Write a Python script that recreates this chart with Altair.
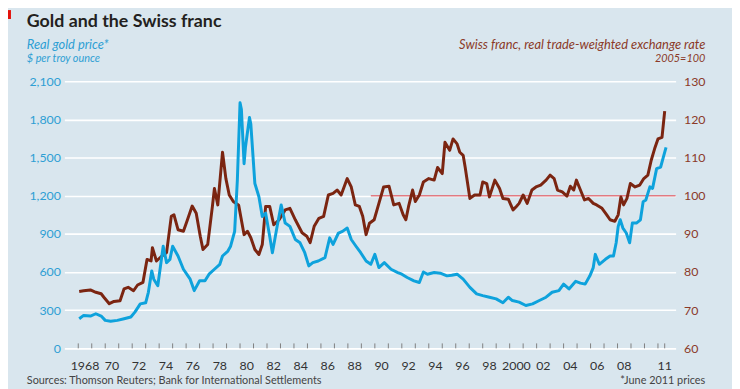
import altair as alt
import pandas as pd

# ---- data ----
gold_year = [1968.07, 1968.4, 1968.9, 1969.3, 1969.7, 1970.0, 1970.4, 1970.9, 1971.4, 1971.9,
             1972.2, 1972.6, 1973.0, 1973.2, 1973.45, 1973.6, 1973.9, 1974.1, 1974.3, 1974.55,
             1974.8, 1975.0, 1975.4, 1975.8, 1976.3, 1976.6, 1977.0, 1977.4, 1977.7, 1978.1,
             1978.5, 1978.7, 1979.1, 1979.3, 1979.6, 1979.8, 1980.0, 1980.1, 1980.3, 1980.4,
             1980.7, 1980.8, 1981.1, 1981.4, 1981.65, 1981.9, 1982.2, 1982.4, 1982.75, 1983.05,
             1983.35, 1983.7, 1984.1, 1984.45, 1984.8, 1985.1, 1985.4, 1985.8, 1986.3, 1986.65,
             1986.9, 1987.3, 1987.6, 1987.95, 1988.25, 1988.6, 1988.95, 1989.35, 1989.7, 1990.0,
             1990.3, 1990.7, 1991.2, 1991.7, 1992.0, 1992.4, 1992.9, 1993.3, 1993.6, 1993.9,
             1994.4, 1994.85, 1995.35, 1995.7, 1996.1, 1996.55, 1997.05, 1997.55, 1998.0, 1998.5,
             1999.0, 1999.5, 1999.9, 2000.2, 2000.7, 2001.2, 2001.7, 2002.2, 2002.7, 2003.15,
             2003.65, 2004.0, 2004.4, 2004.9, 2005.25, 2005.6, 2005.95, 2006.2, 2006.35, 2006.65,
             2007.1, 2007.45, 2007.7, 2007.9, 2008.05, 2008.2, 2008.4, 2008.65, 2008.9, 2009.1,
             2009.4, 2009.7, 2009.9, 2010.1, 2010.4, 2010.6, 2010.9, 2011.2, 2011.4, 2011.6]
gold_price = [233, 259, 254, 272, 254, 220, 213, 220, 233, 246,
              285, 350, 358, 441, 609, 544, 492, 648, 803, 674,
              700, 803, 726, 622, 544, 454, 531, 531, 583, 622,
              661, 726, 765, 803, 920, 1322, 1931, 1880, 1452, 1581,
              1815, 1763, 1296, 1192, 1037, 1063, 881, 752, 959, 1128,
              985, 959, 856, 830, 752, 648, 674, 687, 713, 869,
              817, 907, 920, 946, 856, 803, 752, 687, 661, 739,
              635, 674, 622, 596, 583, 557, 531, 518, 601, 583,
              596, 591, 570, 575, 583, 544, 479, 428, 415, 402,
              389, 358, 402, 376, 363, 337, 350, 376, 402, 441,
              454, 505, 467, 527, 513, 505, 570, 635, 739, 661,
              700, 726, 726, 830, 959, 1011, 946, 907, 830, 985,
              985, 1011, 1153, 1167, 1270, 1258, 1413, 1426, 1504, 1581]

franc_year = [1968.07, 1968.4, 1968.9, 1969.3, 1969.7, 1969.9, 1970.3, 1970.65, 1971.1, 1971.4,
              1971.7, 1972.1, 1972.4, 1972.8, 1973.1, 1973.4, 1973.5, 1973.8, 1974.2, 1974.55,
              1974.9, 1975.1, 1975.4, 1975.8, 1976.1, 1976.45, 1976.75, 1977.05, 1977.25, 1977.6,
              1977.95, 1978.1, 1978.35, 1978.7, 1978.95, 1979.2, 1979.5, 1979.9, 1980.3, 1980.55,
              1980.8, 1981.1, 1981.4, 1981.65, 1981.9, 1982.2, 1982.5, 1982.9, 1983.35, 1983.7,
              1984.1, 1984.6, 1984.95, 1985.2, 1985.5, 1985.85, 1986.2, 1986.55, 1986.9, 1987.2,
              1987.5, 1987.95, 1988.25, 1988.55, 1988.85, 1989.1, 1989.35, 1989.6, 1989.95, 1990.3,
              1990.65, 1991.05, 1991.4, 1991.8, 1992.1, 1992.3, 1992.5, 1992.8, 1993.0, 1993.3,
              1993.6, 1994.0, 1994.4, 1994.65, 1995.0, 1995.2, 1995.55, 1995.8, 1996.1, 1996.3,
              1996.55, 1996.7, 1997.05, 1997.4, 1997.8, 1998.0, 1998.3, 1998.5, 1998.9, 1999.25,
              1999.5, 1999.9, 2000.25, 2000.5, 2000.7, 2001.0, 2001.3, 2001.65, 2001.95, 2002.3,
              2002.7, 2003.0, 2003.3, 2003.55, 2003.9, 2004.25, 2004.5, 2004.75, 2004.95, 2005.25,
              2005.55, 2005.85, 2006.2, 2006.45, 2006.85, 2007.2, 2007.45, 2007.8, 2008.05, 2008.25,
              2008.45, 2008.7, 2008.95, 2009.3, 2009.65, 2009.95, 2010.25, 2010.5, 2010.75, 2011.0,
              2011.3, 2011.5]
franc_index = [74.9, 75.1, 75.3, 74.7, 74.3, 73.4, 71.7, 72.3, 72.5, 75.6,
               76.0, 75.1, 76.6, 77.3, 83.3, 82.9, 86.4, 82.9, 84.2, 85.1,
               94.6, 95.0, 91.1, 90.7, 93.7, 97.3, 95.4, 89.4, 85.9, 87.2,
               97.2, 101.9, 97.6, 111.4, 104.5, 100.2, 98.5, 97.5, 89.8, 90.7,
               89.0, 85.9, 84.6, 87.2, 97.2, 97.2, 92.4, 93.7, 96.3, 96.7,
               93.7, 90.3, 89.4, 87.7, 92.0, 94.1, 94.6, 100.2, 100.6, 101.5,
               100.2, 104.5, 102.3, 97.6, 97.2, 94.6, 89.8, 92.8, 93.7, 98.0,
               102.3, 102.5, 97.6, 98.0, 95.0, 93.7, 97.2, 101.5, 98.5, 100.2,
               103.6, 104.5, 104.1, 107.4, 105.8, 114.0, 111.9, 114.9, 113.6, 111.4,
               110.6, 107.5, 99.3, 100.2, 100.2, 103.6, 103.2, 99.7, 104.1, 101.9,
               99.3, 99.1, 96.3, 97.2, 98.0, 100.2, 98.0, 101.5, 102.3, 102.8,
               104.1, 105.4, 104.5, 101.5, 101.0, 99.9, 102.5, 101.5, 104.1, 101.5,
               98.9, 99.3, 98.0, 97.6, 96.7, 95.0, 93.7, 93.3, 95.0, 99.7,
               97.6, 99.3, 103.2, 102.3, 102.8, 104.5, 105.4, 109.3, 112.3, 114.9,
               115.3, 122.2]

tick_years = list(range(1968, 2012)) + [2011.5]
xlabel_years = [1968.5, 1970.5, 1972.5, 1974.5, 1976.5, 1978.5, 1980.5, 1982.5, 1984.5,
                1986.5, 1988.5, 1990.5, 1992.5, 1994.5, 1996.5, 1998.5, 2000.5, 2002.5,
                2004.5, 2006.5, 2008.5, 2011.5]
xlabel_text = ["1968", "70", "72", "74", "76", "78", "80", "82", "84", "86", "88", "90",
               "92", "94", "96", "98", "2000", "02", "04", "06", "08", "11"]
gold_ticks = [0, 300, 600, 900, 1200, 1500, 1800, 2100]
franc_ticks = [60, 70, 80, 90, 100, 110, 120, 130]
ref_years = [1989.7, 2012.31]
ref_values = [100, 100]

BG = "#d9e6ee"
BLUE = "#0ea2dc"
BROWN = "#7b2511"
PINK = "#e07a82"
LBLUE = "#2e9fd4"
LBROWN = "#8b3a28"
FONT = "Lato"

x_scale = alt.Scale(domain=[1966.97, 2012.31], nice=False, zero=False)
franc_scale = alt.Scale(domain=[60, 130], nice=False, zero=False)
franc_axis = alt.Axis(orient="right", values=franc_ticks, format="d", grid=False,
                      domain=False, ticks=False, labelColor=LBROWN, labelFontSize=12.5,
                      labelPadding=8, labelOverlap=False, tickCount=8, title=None)

gold_df = pd.DataFrame({"year": gold_year, "price": gold_price})
franc_df = pd.DataFrame({"year": franc_year, "index": franc_index})
ref_df = pd.DataFrame({"year": ref_years, "index": ref_values})
tick_df = pd.DataFrame({"year": tick_years})
xlab_df = pd.DataFrame({"year": xlabel_years, "text": xlabel_text})

gold = alt.Chart(gold_df).mark_line(color=BLUE, strokeWidth=3, strokeJoin="round").encode(
    x=alt.X("year:Q", scale=x_scale,
            axis=alt.Axis(labels=False, ticks=False, grid=False, domainColor="#808080",
                          domainWidth=1, title=None, zindex=1, tickCount=5)),
    y=alt.Y("price:Q", scale=alt.Scale(domain=[0, 2100], nice=False, zero=True),
            axis=alt.Axis(orient="left", values=gold_ticks, format=",d", grid=True,
                          gridColor="white", gridWidth=1.6, domain=False, ticks=False,
                          labelColor=LBLUE, labelFontSize=12.5, labelPadding=4,
                          labelOverlap=False, title=None)),
)

ref_line = alt.Chart(ref_df).mark_line(color=PINK, strokeWidth=1.6).encode(
    x=alt.X("year:Q", scale=x_scale, axis=None),
    y=alt.Y("index:Q", scale=franc_scale, axis=franc_axis),
)
franc_line = alt.Chart(franc_df).mark_line(color=BROWN, strokeWidth=3, strokeJoin="round").encode(
    x=alt.X("year:Q", scale=x_scale, axis=None),
    y=alt.Y("index:Q", scale=franc_scale, axis=franc_axis),
)
franc = alt.layer(ref_line, franc_line)

ticks = alt.Chart(tick_df).mark_rule(color="#808080", strokeWidth=1).encode(
    x=alt.X("year:Q", scale=x_scale, axis=None),
    y=alt.value(270), y2=alt.value(265),
)

xlabels = alt.Chart(xlab_df).mark_text(
    align="center", baseline="alphabetic", fontSize=12.5, color="#333333", font=FONT
).encode(
    x=alt.X("year:Q", scale=x_scale, axis=None),
    y=alt.value(292),
    text="text:N",
)

one = pd.DataFrame({"a": [0]})


def label(text, x, y, size, color, align="left", weight="normal", style="normal"):
    return alt.Chart(one).mark_text(
        text=text, align=align, baseline="alphabetic", fontSize=size, color=color,
        fontWeight=weight, fontStyle=style, font=FONT,
    ).encode(x=alt.value(x), y=alt.value(y))


red_box = alt.Chart(one).mark_rect(color="#e3120b").encode(
    x=alt.value(-57), x2=alt.value(-54), y=alt.value(-72), y2=alt.value(-63))

texts = [
    label("Gold and the Swiss franc", -38, -55, 18, "#231f20", weight="bold"),
    label("Real gold price*", -38, -33, 13, LBLUE, style="italic"),
    label("$ per troy ounce", -38, -20, 11, LBLUE, style="italic"),
    label("Swiss franc, real trade-weighted exchange rate", 648, -33, 13, LBROWN,
          align="right", style="italic"),
    label("2005=100", 648, -20, 11, LBROWN, align="right", style="italic"),
    label("Sources: Thomson Reuters; Bank for International Settlements", -38, 306, 11,
          "#444444"),
    label("*June 2011 prices", 648, 306, 11, "#444444", align="right"),
]

chart = alt.layer(franc, gold, ticks, xlabels, red_box, *texts).resolve_scale(
    y="independent"
).properties(
    width=618, height=270,
    padding={"left": 57, "top": 72, "right": 57, "bottom": 39},
    autosize=alt.AutoSizeParams(type="none"),
    background=BG,
).configure_view(stroke=None).configure_axis(labelFont=FONT)

chart.save("out.html", embed_options={"renderer": "svg", "actions": False})
